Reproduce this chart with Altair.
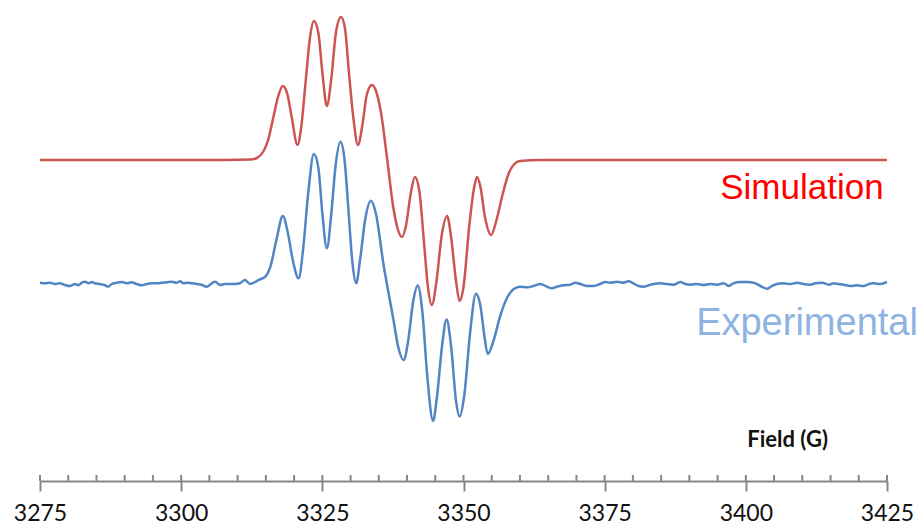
import altair as alt
import pandas as pd

# ---- EPR spectra (first-derivative signal, arbitrary units) vs magnetic field (G)
sim_field = [3275.0, 3303.3, 3312.2, 3313.4, 3314.5, 3315.4, 3316.3, 3317.2, 3318.0, 3318.8,
             3319.6, 3320.6, 3321.2, 3322.1, 3322.8, 3323.5, 3324.3, 3325.0, 3325.8, 3326.6,
             3327.4, 3328.3, 3329.0, 3329.7, 3330.5, 3331.3, 3332.1, 3332.9, 3333.8, 3334.5,
             3335.4, 3336.5, 3337.5, 3338.3, 3339.1, 3339.8, 3340.7, 3341.4, 3342.2, 3343.0,
             3343.7, 3344.4, 3345.2, 3346.1, 3347.1, 3347.8, 3348.7, 3349.3, 3350.0, 3351.0,
             3351.9, 3352.4, 3353.0, 3353.8, 3354.9, 3355.8, 3356.9, 3357.9, 3359.0, 3360.0,
             3363.6, 3425.0]
sim_signal = [0, 0, 0.5, 2, 8, 20, 42, 64, 74, 66,
              42, 15, 30, 82, 122, 139, 127, 88, 54, 82,
              127, 143, 132, 88, 42, 15, 35, 66, 75, 69,
              47, 0, -45, -68, -77, -66, -32, -17, -32, -82,
              -127, -145, -122, -77, -56, -77, -122, -141, -127, -67,
              -27, -17, -27, -57, -75, -61, -35, -15, -4, -1,
              0, 0]

exp_field = [3275.0, 3275.9, 3276.8, 3277.7, 3278.5, 3279.4, 3280.3, 3281.2, 3281.8, 3282.4,
             3283.0, 3283.6, 3284.2, 3284.7, 3285.6, 3286.5, 3287.1, 3287.7, 3288.6, 3289.5,
             3290.4, 3291.2, 3292.1, 3293.0, 3293.9, 3294.8, 3295.7, 3296.6, 3297.4, 3298.3,
             3299.2, 3299.8, 3300.4, 3301.0, 3301.9, 3302.8, 3303.6, 3304.5, 3305.4, 3306.0,
             3306.9, 3307.8, 3308.7, 3309.5, 3310.4, 3311.3, 3312.2, 3313.1, 3313.7,
             3314.9, 3315.8, 3316.9, 3318.0, 3318.9, 3319.8, 3320.8, 3321.6, 3322.5, 3323.5,
             3324.3, 3325.0, 3325.8, 3326.6, 3327.3, 3328.2, 3328.9, 3329.6, 3330.3, 3331.0,
             3331.7, 3332.6, 3333.6, 3334.5, 3335.8, 3337.6, 3338.4, 3339.4, 3340.2, 3341.1,
             3341.9, 3342.7, 3343.6, 3344.6, 3345.3, 3346.2, 3347.0, 3347.8, 3348.7, 3349.3,
             3350.1, 3351.2, 3352.2, 3353.0, 3353.7, 3354.3, 3355.3, 3356.5, 3357.7, 3358.9,
             3360.0, 3361.2, 3362.4, 3363.6, 3364.8, 3365.7, 3366.5, 3367.7, 3368.9, 3369.8,
             3370.7, 3371.9, 3373.0, 3374.2, 3375.1, 3376.0, 3377.2, 3378.3, 3379.2, 3380.1,
             3381.0, 3381.9, 3382.8, 3383.7, 3384.9, 3386.0, 3387.2, 3388.4, 3389.3, 3390.2,
             3391.4, 3392.5, 3393.7, 3394.9, 3396.1, 3397.0, 3397.8, 3399.0, 3400.2, 3401.4,
             3402.6, 3403.8, 3404.6, 3405.5, 3406.7, 3407.9, 3409.1, 3410.2, 3411.4, 3412.3,
             3413.5, 3414.7, 3415.6, 3416.4, 3417.3, 3418.5, 3419.7, 3420.9, 3421.8, 3422.6,
             3423.8, 3425.0]
exp_signal = [1.3, 0.7, 1.3, 0, 0.7, -1, -2, 0, -1.3, 1.3,
              2.3, 0.7, 2, 0.7, 0, -1.3, -2.7, 0, 1.3, 2,
              0.7, 1.7, 0, -1.3, 0, 0.7, 0.7, 1.3, 1.7, 2.3,
              1.3, 2.7, 0.7, 1.3, 0.7, 0, -0.7, -2.7, 0.7, 2.3,
              -1, 0, 0, 0, 0.7, 4, 0, 2, 4,
              7.3, 17.3, 45, 68, 51, 23, 5.7, 35, 91, 130,
              116, 71, 35.7, 71, 116, 142.3, 126, 76, 23, 0.7,
              25, 65, 83.3, 70, 20.7, -36, -62, -76, -57, -17,
              -1.5, -27, -93, -137, -113, -62, -35.5, -62, -118, -132.5,
              -113, -47, -9.7, -22, -52, -70, -57, -32, -14, -5,
              -2.7, -3.3, -2, 0, -2.7, -4.3, -2.7, -1.3, -0.7, 1.3,
              0, -2, -2, 0, 2, 1.3, 2.3, 1.3, 2.7, 0.7,
              -2, -2.7, -1.3, 0, 0.7, 0, -0.7, 2, 0, -0.7,
              0, -1, 0, -0.7, 0.7, -2, 0.7, 2, 2, 1.3,
              -2, -4.7, -2, 0, 0.7, 0, 1.3, 0, -0.7, 0.7,
              1.3, -0.7, 0.7, 0, -0.7, -2, -1.3, -2, 0, 0.7,
              0, 2]

major_ticks = [3275, 3300, 3325, 3350, 3375, 3400, 3425]
minor_ticks = [3275, 3280, 3285, 3290, 3295, 3300, 3305, 3310, 3315, 3320, 3325,
               3330, 3335, 3340, 3345, 3350, 3355, 3360, 3365, 3370, 3375, 3380,
               3385, 3390, 3395, 3400, 3405, 3410, 3415, 3420, 3425]

# vertical stacking of the two traces
SIM_OFFSET = 321
EXP_OFFSET = 197

GRAY = "#878787"
x_scale = alt.Scale(domain=[3275, 3425], nice=False, zero=False)
y_scale = alt.Scale(domain=[0, 481], nice=False, zero=False)

sim_df = pd.DataFrame({"field": sim_field, "signal": sim_signal})
exp_df = pd.DataFrame({"field": exp_field, "signal": exp_signal})
tick_df = pd.DataFrame({"field": minor_ticks})

x_axis = alt.Axis(values=major_ticks, format="d", title=None, grid=False,
                  labelFont="Lato", labelFontSize=23, labelColor="#111111",
                  labelFlush=False, labelPadding=11,
                  domainColor=GRAY, domainWidth=2,
                  tickColor=GRAY, tickWidth=2, tickSize=10)

sim_line = alt.Chart(sim_df).transform_calculate(
    y=f"datum.signal + {SIM_OFFSET}"
).mark_line(interpolate="monotone", color="#CC5552", strokeWidth=2.5).encode(
    x=alt.X("field:Q", scale=x_scale, axis=x_axis),
    y=alt.Y("y:Q", scale=y_scale, axis=None),
)

exp_line = alt.Chart(exp_df).transform_calculate(
    y=f"datum.signal + {EXP_OFFSET}"
).mark_line(interpolate="monotone", color="#5285C4", strokeWidth=2.5).encode(
    x=alt.X("field:Q", scale=x_scale, axis=x_axis),
    y=alt.Y("y:Q", scale=y_scale, axis=None),
)

# small ticks standing on the axis line (every 5 G)
inner_ticks = alt.Chart(tick_df).mark_rule(color=GRAY, strokeWidth=2).encode(
    x=alt.X("field:Q", scale=x_scale),
    y=alt.datum(0, scale=y_scale),
    y2=alt.datum(6),
)

sim_label = alt.Chart(sim_df.head(1)).mark_text(
    text="Simulation", font="Liberation Sans", fontSize=35, color="#FF0000",
    align="right", baseline="alphabetic"
).encode(x=alt.datum(3424.4, scale=x_scale), y=alt.datum(282, scale=y_scale))

exp_label = alt.Chart(exp_df.head(1)).mark_text(
    text="Experimental", font="Liberation Sans", fontSize=38, color="#8DB3E2",
    align="left", baseline="alphabetic"
).encode(x=alt.datum(3391.2, scale=x_scale), y=alt.datum(146, scale=y_scale))

field_label = alt.Chart(sim_df.head(1)).mark_text(
    text="Field (G)", font="Lato", fontSize=22, fontWeight="bold", color="#111111",
    align="center", baseline="middle"
).encode(x=alt.datum(3407.4, scale=x_scale), y=alt.datum(41, scale=y_scale))

chart = alt.layer(
    exp_line, sim_line, inner_ticks, sim_label, exp_label, field_label
).properties(
    width=847, height=481,
    autosize=alt.AutoSizeParams(type="none"),
    padding={"left": 40, "top": 0, "right": 36, "bottom": 46},
).configure_view(stroke=None)

chart.save("out.html", embed_options={"renderer": "svg", "actions": False})
